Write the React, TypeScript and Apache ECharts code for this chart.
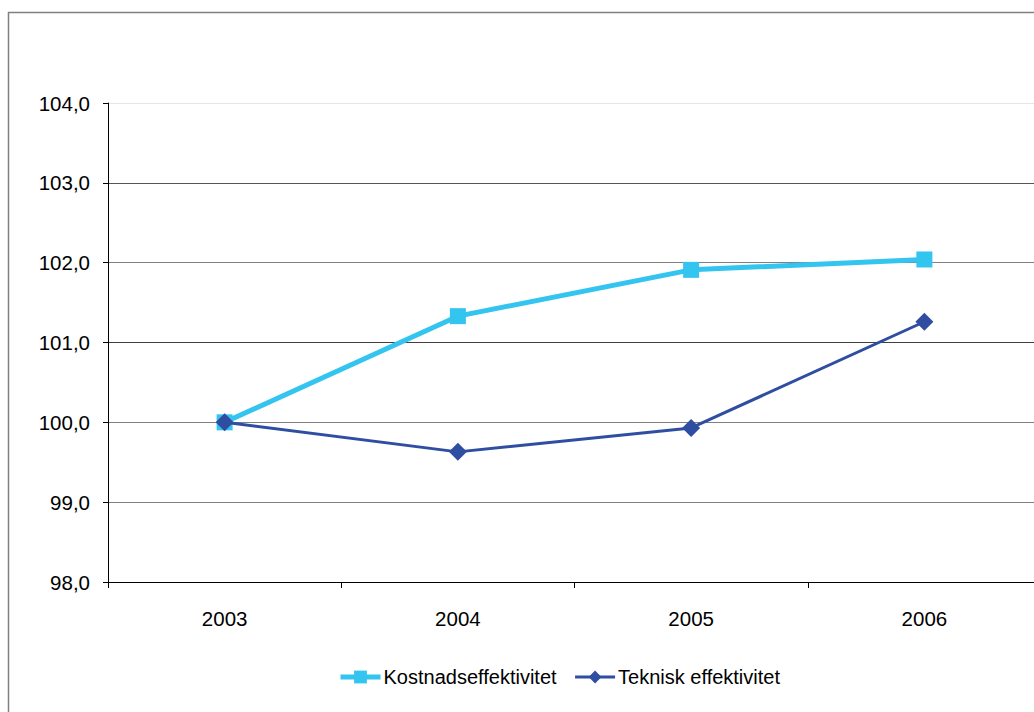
import React, { useEffect, useRef } from "react";
import * as echarts from "echarts";

const years = ["2003", "2004", "2005", "2006"];
const kostnadseffektivitet = [100.0, 101.33, 101.91, 102.04];
const tekniskEffektivitet = [100.0, 99.63, 99.93, 101.26];
const yMin = 98;
const yMax = 104;

const FONT = "'Liberation Sans', Arial, sans-serif";
const LIGHT = "#33c4f0";
const DARK = "#2f4ea2";

export default function App() {
  const ref = useRef<HTMLDivElement>(null);

  useEffect(() => {
    if (!ref.current) return;
    const chart = echarts.init(ref.current, undefined, { renderer: "svg" });
    chart.setOption({
      animation: false,
      backgroundColor: "#ffffff",
      textStyle: { fontFamily: FONT },
      graphic: [
        {
          type: "rect",
          shape: { x: 8.5, y: 12.5, width: 1200, height: 900 },
          style: { fill: "none", stroke: "#808080", lineWidth: 1.5 },
          silent: true,
        },
      ],
      grid: { left: 108, top: 103, width: 933, height: 479 },
      legend: {
        left: 333,
        top: 662,
        itemWidth: 40,
        itemHeight: 16,
        itemGap: 17,
        textStyle: { fontFamily: FONT, fontSize: 20, color: "#000", padding: [0, 0, 0, -2] },
        data: [
          { name: "Kostnadseffektivitet", lineStyle: { width: 5, color: LIGHT } },
          { name: "Teknisk effektivitet", lineStyle: { width: 3, color: DARK } },
        ],
      },
      xAxis: {
        type: "category",
        data: years,
        boundaryGap: true,
        axisLine: { lineStyle: { color: "#000", width: 1 } },
        axisTick: { show: true, length: 6, inside: false, lineStyle: { color: "#000" } },
        axisLabel: { color: "#000", fontSize: 20.5, fontFamily: FONT, margin: 26 },
        splitLine: { show: false },
      },
      yAxis: {
        type: "value",
        min: yMin,
        max: yMax,
        interval: 1,
        axisLine: { show: true, lineStyle: { color: "#000", width: 1 } },
        axisTick: { show: true, length: 5, lineStyle: { color: "#000" } },
        axisLabel: {
          color: "#000",
          fontSize: 20.5,
          fontFamily: FONT,
          margin: 18,
          formatter: (v: number) => v.toFixed(1).replace(".", ","),
        },
        splitLine: {
          show: true,
          lineStyle: {
            color: ["#808080", "#808080", "#808080", "#404040", "#808080", "#555555", "#e6e6e6"],
            width: 1,
          },
        },
      },
      series: [
        {
          name: "Kostnadseffektivitet",
          type: "line",
          data: kostnadseffektivitet,
          symbol: "rect",
          symbolSize: 16,
          showAllSymbol: true,
          lineStyle: { color: LIGHT, width: 5 },
          itemStyle: { color: LIGHT },
          z: 2,
        },
        {
          name: "Teknisk effektivitet",
          type: "line",
          data: tekniskEffektivitet,
          symbol: "diamond",
          symbolSize: 18,
          showAllSymbol: true,
          lineStyle: { color: DARK, width: 3 },
          itemStyle: { color: DARK },
          z: 3,
        },
      ],
    });
    return () => chart.dispose();
  }, []);

  // The plot runs past the right edge, so the chart is wider than its clipping frame.
  return (
    <div style={{ position: "fixed", left: 0, top: 0, width: 1034, height: 712, overflow: "hidden" }}>
      <div ref={ref} style={{ width: 1080, height: 712 }} />
    </div>
  );
}
